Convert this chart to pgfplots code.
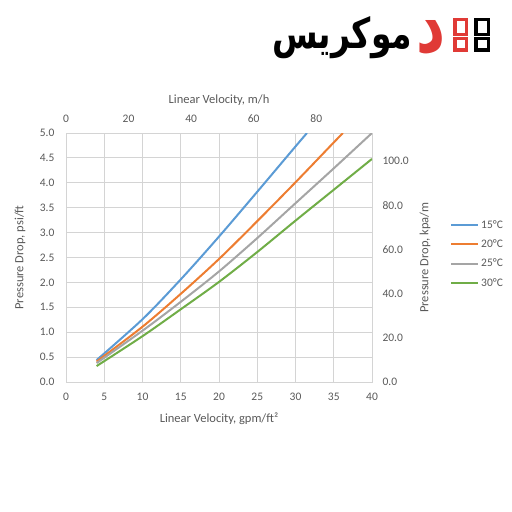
\documentclass[border=0pt]{standalone}
\usepackage{pgfplots}
\pgfplotsset{compat=1.18}
\usepackage{fontspec}
\usepackage{graphicx}
\setmainfont{Carlito}
\newfontfamily\arabicfont[Script=Arabic]{DejaVu Sans}
\TeXXeTstate=1
\definecolor{c15}{HTML}{5B9BD5}
\definecolor{c20}{HTML}{ED7D31}
\definecolor{c25}{HTML}{A5A5A5}
\definecolor{c30}{HTML}{70AD47}
\definecolor{tickgray}{HTML}{595959}
\definecolor{gridgray}{HTML}{D4D4D4}
\definecolor{logored}{HTML}{E03A36}
\begin{document}
\begin{tikzpicture}
\path[use as bounding box] (0pt,0pt) rectangle (512pt,512pt);
% logo
\node[anchor=west,inner sep=0pt] at (272pt,474pt) {\resizebox{140pt}{32pt}{\arabicfont\bfseries\beginR موکریس\endR}};
\node[anchor=west,inner sep=0pt] at (416pt,474pt) {\resizebox{29pt}{32pt}{\color{logored}\arabicfont\bfseries\beginR د\endR}};
\draw[logored,line width=3.5pt] (454.75pt,477.25pt) rectangle (466.25pt,492.25pt);
\draw[black,line width=3.5pt] (475.75pt,477.25pt) rectangle (488.25pt,492.25pt);
\draw[logored,line width=3.5pt] (454.75pt,461.75pt) rectangle (466.25pt,473.25pt);
\draw[black,line width=3.5pt] (475.75pt,461.75pt) rectangle (488.25pt,473.25pt);
\begin{axis}[
  at={(66pt,130pt)}, anchor=south west, scale only axis,
  width=306pt, height=249pt,
  xmin=0, xmax=40, ymin=0, ymax=5,
  xtick={0,5,...,40}, ytick={0,0.5,...,5},
  grid=major, major grid style={gridgray, line width=0.9pt},
  axis line style={gridgray, line width=0.9pt},
  major tick length=0pt,
  /pgf/number format/assume math mode=true,
  tick label style={font=\fontsize{11.5}{13}\selectfont, text=tickgray},
  yticklabel={\pgfmathprintnumber[fixed,fixed zerofill,precision=1]{\tick}},
  xticklabel style={yshift=-8pt},
  yticklabel style={xshift=-8pt},
  xlabel={Linear Velocity, gpm/ft²},
  ylabel={Pressure Drop, psi/ft},
  label style={font=\fontsize{12.5}{14}\selectfont, text=tickgray},
  xlabel style={at={(rel axis cs:0.5,-0.149)}, anchor=center},
  ylabel style={at={(rel axis cs:-0.150,0.5)}, anchor=center},
  legend style={at={(rel axis cs:1.255,0.514)}, anchor=west, draw=none, fill=none,
    font=\fontsize{11.5}{13}\selectfont, text=tickgray, row sep=6pt, inner sep=0pt},
  legend cell align=left,
  legend image code/.code={\draw[#1, line width=2pt] (0pt,0pt) -- (27pt,0pt);},
  every axis plot/.append style={line width=2pt, smooth},
]
\addplot[c15] coordinates {(4,0.44) (10,1.26) (15,2.06) (20,2.92) (25,3.82) (30,4.73) (31.5,5.0)};
\addplot[c20] coordinates {(4,0.41) (10,1.11) (15,1.77) (20,2.47) (25,3.23) (30,4.01) (35,4.81) (36.2,5.0)};
\addplot[c25] coordinates {(4,0.38) (10,1.03) (15,1.61) (20,2.22) (25,2.89) (30,3.59) (35,4.29) (40,5.0)};
\addplot[c30] coordinates {(4,0.32) (10,0.92) (15,1.46) (20,2.01) (25,2.61) (30,3.24) (35,3.86) (40,4.48)};
\legend{15°C,20°C,25°C,30°C}
\end{axis}
\begin{axis}[
  at={(66pt,130pt)}, anchor=south west, scale only axis,
  width=306pt, height=249pt,
  xmin=0, xmax=97.8, ymin=0, ymax=112.8,
  axis x line*=top, axis y line*=right,
  axis line style={draw=none},
  xtick={0,20,...,80}, ytick={0,20,...,100},
  major tick length=0pt,
  /pgf/number format/assume math mode=true,
  tick label style={font=\fontsize{11.5}{13}\selectfont, text=tickgray},
  yticklabel={\pgfmathprintnumber[fixed,fixed zerofill,precision=1]{\tick}},
  xticklabel style={yshift=7pt},
  yticklabel style={xshift=7pt},
  xlabel={Linear Velocity, m/h},
  ylabel={Pressure Drop, kpa/m},
  label style={font=\fontsize{12.5}{14}\selectfont, text=tickgray},
  xlabel style={at={(rel axis cs:0.5,1.1325)}, anchor=center},
  ylabel style={at={(rel axis cs:1.173,0.5)}, anchor=center},
]
\addplot[draw=none] coordinates {(0,0)};
\end{axis}
\end{tikzpicture}
\end{document}
